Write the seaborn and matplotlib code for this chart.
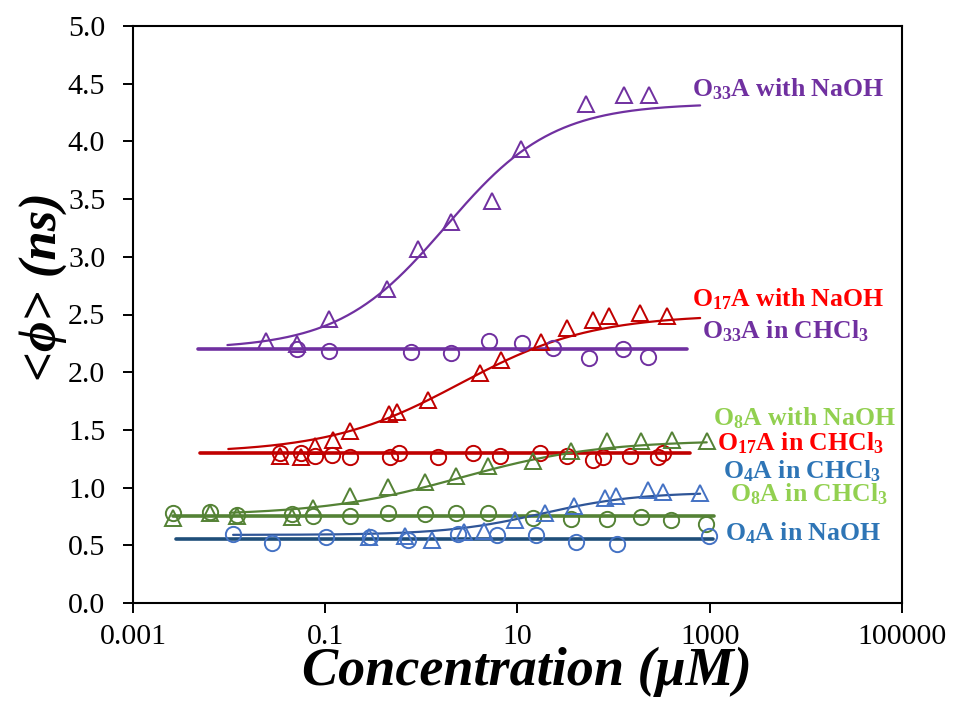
import numpy as np
import matplotlib
matplotlib.use("Agg")
import matplotlib.pyplot as plt
import seaborn as sns
from matplotlib.ticker import NullLocator, FormatStrFormatter

# ---- measured lifetimes <phi> (ns) versus concentration (uM) ----
o33_naoh_x = [0.0242, 0.0505, 0.110, 0.437, 0.931, 2.04, 5.40, 10.8, 51.8, 129, 236]
o33_naoh_y = [2.27, 2.245, 2.465, 2.72, 3.07, 3.30, 3.48, 3.93, 4.32, 4.40, 4.40]

o33_chcl3_x = [0.0505, 0.110, 0.782, 2.04, 5.10, 11.1, 23.3, 55.6, 125, 227]
o33_chcl3_y = [2.20, 2.18, 2.175, 2.17, 2.27, 2.25, 2.21, 2.12, 2.20, 2.13]

o17_naoh_x = [0.0339, 0.056, 0.078, 0.119, 0.181, 0.465, 0.555, 1.18, 4.08, 6.70,
              17.6, 33.0, 60.7, 90.4, 189, 358]
o17_naoh_y = [1.27, 1.265, 1.36, 1.415, 1.487, 1.641, 1.652, 1.762, 1.994, 2.104,
              2.26, 2.384, 2.451, 2.486, 2.515, 2.491]

o17_chcl3_x = [0.0339, 0.056, 0.078, 0.117, 0.181, 0.472, 0.59, 1.50, 3.48, 6.6,
               17.2, 33, 60.7, 78, 148, 292, 330]
o17_chcl3_y = [1.30, 1.30, 1.27, 1.285, 1.265, 1.265, 1.30, 1.265, 1.30, 1.276,
               1.30, 1.276, 1.24, 1.265, 1.276, 1.265, 1.30]

o8_naoh_x = [0.00259, 0.00632, 0.0122, 0.0455, 0.0751, 0.181, 0.447, 1.09, 2.30, 4.91,
             14.6, 35.9, 85, 193, 403, 933]
o8_naoh_y = [0.735, 0.778, 0.755, 0.749, 0.827, 0.929, 1.004, 1.045, 1.102, 1.183,
             1.233, 1.319, 1.40, 1.406, 1.415, 1.40]

o8_chcl3_x = [0.00259, 0.00632, 0.0122, 0.0455, 0.0751, 0.181, 0.447, 1.09, 2.30, 4.91,
              14.6, 35.9, 85, 193, 394, 918]
o8_chcl3_y = [0.778, 0.787, 0.764, 0.770, 0.755, 0.755, 0.778, 0.770, 0.784, 0.778,
              0.735, 0.726, 0.726, 0.744, 0.715, 0.686]

o4_tri_x = [0.288, 0.676, 1.28, 2.80, 4.53, 9.44, 19.4, 39.1, 81.6, 106, 230, 325, 794]
o4_tri_y = [0.576, 0.582, 0.547, 0.619, 0.628, 0.720, 0.778, 0.842, 0.909, 0.923,
            0.981, 0.966, 0.957]

o4_circ_x = [0.0111, 0.0282, 0.102, 0.292, 0.733, 2.43, 6.18, 15.5, 40.4, 108, 993]
o4_circ_y = [0.596, 0.524, 0.570, 0.576, 0.547, 0.596, 0.585, 0.590, 0.532, 0.512, 0.582]

# ---- sigmoidal (Hill) fits: bottom, top, midpoint, slope, x-range ----
fit_names = ["O33", "O17", "O8", "O4"]
fit_bottom = [2.20, 1.30, 0.76, 0.59]
fit_top = [4.33, 2.50, 1.41, 0.96]
fit_mid = [1.8, 2.51, 2.52, 17.9]
fit_slope = [0.78, 0.634, 0.605, 0.871]
fit_start = [0.0096, 0.0098, 0.0102, 0.011]
fit_end = [794, 794, 930, 794]

# ---- constant levels (mean lifetime in CHCl3 / NaOH) ----
flat_level = [2.20, 1.30, 0.755, 0.555]
flat_start = [0.0047, 0.0050, 0.0026, 0.0028]
flat_end = [578, 625, 1110, 1080]

# ---- axis ticks ----
x_ticks = [1e-3, 1e-1, 1e1, 1e3, 1e5]
x_tick_labels = ["0.001", "0.1", "10", "1000", "100000"]
y_ticks = [0.0, 0.5, 1.0, 1.5, 2.0, 2.5, 3.0, 3.5, 4.0, 4.5, 5.0]

# ---- series labels ----
label_text = [r"O$_{33}$A with NaOH", r"O$_{17}$A with NaOH", r"O$_{33}$A in CHCl$_{3}$",
              r"O$_{8}$A with NaOH", r"O$_{17}$A in CHCl$_{3}$", r"O$_{4}$A in CHCl$_{3}$",
              r"O$_{8}$A in CHCl$_{3}$", r"O$_{4}$A in NaOH"]
label_x = [651, 651, 828, 1077, 1186, 1378, 1630, 1445]
label_y = [4.39, 2.567, 2.289, 1.536, 1.322, 1.076, 0.879, 0.541]

PURPLE = "#7030A0"
RED = "#C00000"
GREEN = "#548235"
BLUE_MK = "#4472C4"
BLUE_FIT = "#2F5597"
BLUE_FLAT = "#1F4E79"
label_color = [PURPLE, "#FF0000", PURPLE, "#92D050", "#FF0000", "#2E75B6", "#92D050", "#2E75B6"]

sns.set_theme(style="ticks")
plt.rcParams["font.family"] = ["Liberation Serif", "DejaVu Serif"]
plt.rcParams["text.color"] = "black"
plt.rcParams["mathtext.fontset"] = "custom"
plt.rcParams["mathtext.rm"] = "Liberation Serif:bold"
plt.rcParams["mathtext.it"] = "Liberation Serif:italic:bold"
plt.rcParams["mathtext.bf"] = "Liberation Serif:bold"
plt.rcParams["mathtext.default"] = "rm"

W, H = 956, 703
fig = plt.figure(figsize=(W / 100, H / 100), dpi=100)
fig.patch.set_facecolor("white")
ax = fig.add_axes([133 / W, 100 / H, 769 / W, 577 / H])
ax.set_facecolor("white")
ax.set_xscale("log")

# horizontal levels
flat_colors = [PURPLE, RED, GREEN, BLUE_FLAT]
for lvl, x0, x1, c in zip(flat_level, flat_start, flat_end, flat_colors):
    sns.lineplot(x=[x0, x1], y=[lvl, lvl], ax=ax, color=c, linewidth=2.6,
                 estimator=None, sort=False, legend=False)

# fitted sigmoids
fit_colors = [PURPLE, RED, GREEN, BLUE_FIT]
for b, t, m, n, x0, x1, c in zip(fit_bottom, fit_top, fit_mid, fit_slope,
                                 fit_start, fit_end, fit_colors):
    xs = np.logspace(np.log10(x0), np.log10(x1), 300)
    ys = b + (t - b) / (1.0 + (m / xs) ** n)
    sns.lineplot(x=xs, y=ys, ax=ax, color=c, linewidth=1.6,
                 estimator=None, sort=False, legend=False)

# data points (open markers)
series = [
    (o33_naoh_x, o33_naoh_y, "^", PURPLE),
    (o33_chcl3_x, o33_chcl3_y, "o", PURPLE),
    (o17_naoh_x, o17_naoh_y, "^", RED),
    (o17_chcl3_x, o17_chcl3_y, "o", RED),
    (o8_naoh_x, o8_naoh_y, "^", GREEN),
    (o8_chcl3_x, o8_chcl3_y, "o", GREEN),
    (o4_tri_x, o4_tri_y, "^", BLUE_MK),
    (o4_circ_x, o4_circ_y, "o", BLUE_MK),
]
for xv, yv, mk, c in series:
    sns.lineplot(x=xv, y=yv, ax=ax, marker=mk, linestyle="", markersize=11,
                 markerfacecolor="none", markeredgecolor=c, markeredgewidth=1.4,
                 color=c, estimator=None, sort=False, legend=False)

# series labels
for s, lx, ly, c in zip(label_text, label_x, label_y, label_color):
    ax.text(lx, ly, s, color=c, fontsize=18.5, fontweight="bold",
            ha="left", va="baseline", clip_on=False)

ax.set_xlim(1e-3, 1e5)
ax.set_ylim(0, 5)
ax.set_xticks(x_ticks)
ax.set_xticklabels(x_tick_labels)
ax.xaxis.set_minor_locator(NullLocator())
ax.set_yticks(y_ticks)
ax.yaxis.set_major_formatter(FormatStrFormatter("%.1f"))
ax.tick_params(axis="both", direction="out", length=7, width=1.4, color="black",
               labelsize=21.5, labelcolor="black", top=False, right=False)
ax.tick_params(axis="y", pad=13)
ax.tick_params(axis="x", pad=8)
for sp in ax.spines.values():
    sp.set_visible(True)
    sp.set_color("black")
    sp.set_linewidth(1.5)
ax.grid(False)
ax.set_xlabel("")
ax.set_ylabel("")

fig.text(526.5 / W, 1 - 685 / H, "Concentration (μM)", fontsize=39, fontweight="bold",
         style="italic", color="black", ha="center", va="baseline")
fig.text(57 / W, 1 - 287 / H, "<ϕ> (ns)", fontsize=38, fontweight="bold",
         style="italic", color="black", rotation=90, rotation_mode="anchor",
         ha="center", va="baseline")

fig.savefig("out.png", dpi=100, facecolor="white")
